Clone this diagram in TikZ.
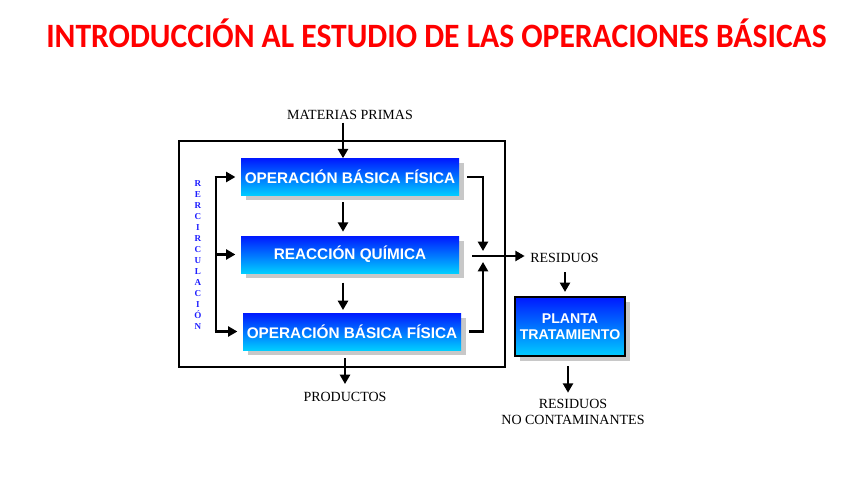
\documentclass[tikz,border=0pt]{standalone}
\usepackage{fontspec}
\setmainfont{Liberation Serif}
\newfontfamily\arialf{Liberation Sans}
\newfontfamily\calibrif{Carlito}
\usetikzlibrary{arrows.meta,calc,shadows}
\definecolor{boxtop}{RGB}{0,25,255}
\definecolor{boxbot}{RGB}{0,205,255}
\definecolor{shadowgray}{RGB}{200,200,200}
\definecolor{titlered}{RGB}{255,0,0}
\definecolor{recblue}{RGB}{30,30,255}
\tikzset{
  opbox/.style={minimum width=163.5pt, minimum height=27.75pt, inner sep=0pt,
    top color=boxtop, bottom color=boxbot, text=white,
    font=\arialf\bfseries\fontsize{11.5}{13}\selectfont,
    drop shadow={shadow xshift=3.5pt, shadow yshift=-3.5pt, fill=shadowgray, opacity=1}},
  plantbox/.style={opbox, draw=black, line width=1.6pt, minimum width=82.5pt, minimum height=44.25pt,
    align=center, font=\arialf\bfseries\fontsize{10.6}{12}\selectfont},
  lbl/.style={inner sep=0pt, font=\fontsize{10.5}{11.5}\selectfont, align=center},
  arr/.style={line width=2.1pt, -{Triangle[width=7.5pt,length=7pt]}},
  ln/.style={line width=2.1pt},
}
\begin{document}
\begin{tikzpicture}[x=0.75pt,y=-0.75pt]
\useasboundingbox (0,0) rectangle (848,477);
% title
\node[text=titlered, font=\calibrif\bfseries\fontsize{23.7}{28}\selectfont, inner sep=0pt, yscale=1.08] (title) at (436.5,33) {INTRODUCCIÓN AL ESTUDIO DE LAS OPERACIONES BÁSICAS};
% outer frame
\draw[line width=1.8pt] (179,141) rectangle (505,367);
% boxes
\node[opbox] (b1) at (350,177) {OPERACIÓN BÁSICA FÍSICA};
\node[opbox] (b2) at (350,254.5) {REACCIÓN QUÍMICA};
\node[opbox] (b3) at (352,331.5) {OPERACIÓN BÁSICA FÍSICA};
\node[plantbox] (pt) at (570,326.5) {PLANTA\\TRATAMIENTO};
% labels
\node[lbl] (mp) at (350,115) {MATERIAS PRIMAS};
\node[lbl] (prod) at (345,397) {PRODUCTOS};
\node[lbl, anchor=west] (res) at (530,258) {RESIDUOS};
\node[lbl] (resnc) at (573,412) {RESIDUOS\\NO CONTAMINANTES};
\node[inner sep=0pt, align=center, text=recblue, font=\bfseries\fontsize{6.8}{8.3}\selectfont] (rec) at (198,255)
  {R\\E\\R\\C\\I\\R\\C\\U\\L\\A\\C\\I\\Ó\\N};
% helper coordinates
\coordinate (xa) at (343,0);
\coordinate (xp) at (345,0);
\coordinate (rl) at (216,0);
\coordinate (j) at (483,256);
\coordinate (xr) at (565,0);
\coordinate (xn) at (568,0);
% vertical flow arrows
\draw[arr, shorten <=2pt] (mp.south -| xa) -- (b1.north -| xa);
\draw[arr, shorten <=5pt, shorten >=3pt] (b1.south -| xa) -- (b2.north -| xa);
\draw[arr, shorten <=7pt, shorten >=2pt] (b2.south -| xa) -- (b3.north -| xa);
\draw[arr, shorten <=6pt, shorten >=6pt] (b3.south -| xp) -- (prod.north -| xp);
% recirculation
\draw[ln] (b1.west -| rl) -- (b3.west -| rl);
\draw[arr, shorten >=4pt] ([xshift=-1pt]b1.west -| rl) -- (b1.west);
\draw[arr, shorten >=4pt] (b2.west -| rl) -- (b2.west);
\draw[arr, shorten >=4pt] ([xshift=-1pt]b3.west -| rl) -- (b3.west);
% residues collection
\draw[arr, shorten <=6pt] (b1.east) -- (b1.east -| j) -- ($(j)+(0,-5)$);
\draw[arr, shorten <=6pt] (b3.east) -- (b3.east -| j) -- ($(j)+(0,6)$);
\draw[arr, shorten >=4pt] ($(j)+(-11,0)$) -- (res.west |- j);
% treatment
\draw[arr, shorten <=7pt, shorten >=3pt] (res.south -| xr) -- (pt.north -| xr);
\draw[arr, shorten <=7pt, shorten >=5pt] (pt.south -| xn) -- (resnc.north -| xn);
\end{tikzpicture}
\end{document}
